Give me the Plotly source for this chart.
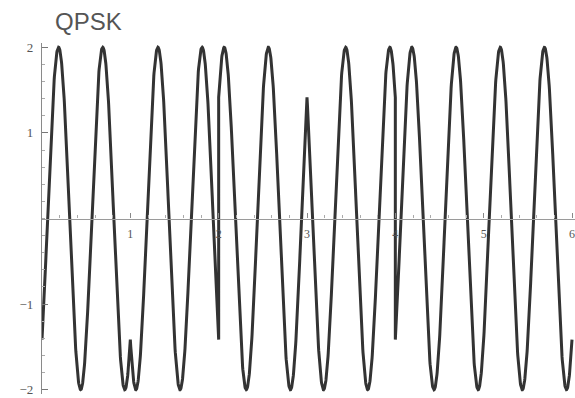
import numpy as np
import plotly.graph_objects as go

# ---- data ----
title_text = "QPSK"
symbol_phases_deg = [-135, 135, -45, 45, -135, -135]   # phase of each symbol interval
symbol_starts = [0, 1, 2, 3, 4, 5]                     # symbol boundaries (time)
symbol_duration = 1.0
carrier_cycles_per_symbol = 2
amplitude = 2
y_tick_vals = [-2, -1, 1, 2]
y_tick_text = ["\u22122", "\u22121", "1", "2"]
x_tick_vals = [1, 2, 3, 4, 5, 6]
x_tick_text = ["1", "2", "3", "4", "5", "6"]

# ---- build waveform from the symbol phases ----
xs, ys = [], []
for start, ph in zip(symbol_starts, symbol_phases_deg):
    t = np.linspace(start, start + symbol_duration, 400)
    y = amplitude * np.cos(2 * np.pi * carrier_cycles_per_symbol * t + np.deg2rad(ph))
    xs.extend(t.tolist())
    ys.extend(y.tolist())

fig = go.Figure()
fig.add_trace(go.Scatter(x=xs, y=ys, mode="lines",
                         line=dict(color="#333333", width=3),
                         hoverinfo="skip", showlegend=False))

x_tick_font = dict(family="Liberation Serif", size=12, color="#555555")
y_tick_font = dict(family="Liberation Serif", size=13, color="#555555")
fig.update_layout(
    width=575, height=398,
    margin=dict(l=42, r=0, t=43, b=4),
    paper_bgcolor="white", plot_bgcolor="white",
    title=dict(text=title_text, x=55 / 575, xref="container", xanchor="left",
               y=1 - 22 / 398, yref="container", yanchor="middle",
               font=dict(family="Liberation Sans", size=24, color="#555555")),
    xaxis=dict(range=[0, 6.034], showgrid=False, zeroline=False,
               showline=True, linecolor="#9a9a9a", linewidth=1.3,
               anchor="free", position=0.5,
               tickvals=x_tick_vals, ticktext=x_tick_text,
               ticks="inside", ticklen=5, tickcolor="#888888",
               ticklabelstandoff=4,
               minor=dict(dtick=0.2, tick0=0, ticks="inside", ticklen=3,
                          tickcolor="#aaaaaa", showgrid=False),
               tickfont=x_tick_font),
    yaxis=dict(range=[-2.05, 2.05], showgrid=False, zeroline=False,
               showline=True, linecolor="#8a8a8a", linewidth=1.3,
               tickvals=y_tick_vals, ticktext=y_tick_text,
               ticks="inside", ticklen=6, tickcolor="#777777",
               ticklabelstandoff=5,
               minor=dict(dtick=0.2, tick0=0, ticks="inside", ticklen=3,
                          tickcolor="#aaaaaa", showgrid=False),
               tickfont=y_tick_font),
)

fig.write_html("out.html")
